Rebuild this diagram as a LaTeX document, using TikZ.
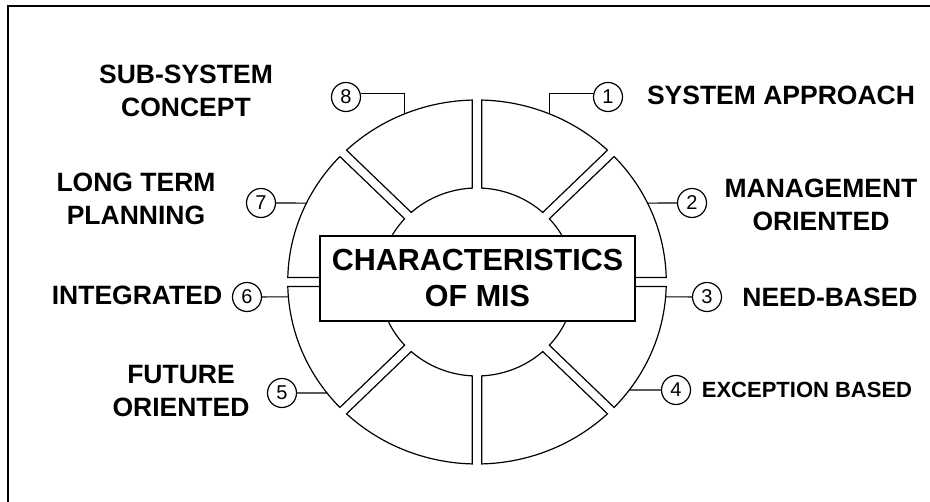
\documentclass[tikz,border=0pt]{standalone}
\usepackage{fontspec}
\setmainfont{Liberation Sans}
\begin{document}
\begin{tikzpicture}[x=1pt,y=1pt,
  lbl/.style={font=\bfseries\fontsize{26.5}{33}\selectfont,align=center,inner sep=0pt},
  num/.style={circle,draw,line width=1.2pt,minimum size=29pt,inner sep=0pt,font=\fontsize{20}{20}\selectfont},
  seg/.style={draw,line width=1.2pt},
  lead/.style={draw,line width=1.1pt}]
\useasboundingbox(0,0)rectangle(930,502);
\draw[line width=1.6pt](8,0)--(8,496)--(930,496);
% ring of eight segments
\begin{scope}[shift={(477,220)},xscale=1.04]
\foreach \a in {0,45,...,315}{
  \draw[seg](\a+1.42:182pt)arc[start angle=\a+1.42,end angle=\a+43.58,radius=182pt]--(\a+42.26:94pt)arc[start angle=\a+42.26,end angle=\a+2.74,radius=94pt]--cycle;}
\foreach \n/\t in {1/67.6,2/25.7,3/-4.7,4/-36.4,5/217.6,6/184.7,7/154.3,8/112.4}
  \coordinate(a\n)at(\t:182pt);
\end{scope}
\node[draw,fill=white,line width=1.5pt,minimum width=315pt,minimum height=85pt,align=center,font=\bfseries\fontsize{30.5}{36}\selectfont](mis)at(477.5,223.5){CHARACTERISTICS\\OF MIS};
% numbers
\node[num](n1)at(608,405){1};
\node[num](n2)at(692,299){2};
\node[num](n3)at(707,205){3};
\node[num](n4)at(676,112){4};
\node[num](n5)at(282,109){5};
\node[num](n6)at(247,205){6};
\node[num](n7)at(261,299){7};
\node[num](n8)at(346,405){8};
\draw[lead](n1.165)-|(a1);\draw[lead](n8.15)-|(a8);
\foreach \n in {2,...,7}\draw[lead](n\n)--(a\n);
% labels
\node[lbl](l1)at(781,407){SYSTEM APPROACH};
\node[lbl](l2)at(821,297){MANAGEMENT\\ORIENTED};
\node[lbl](l3)at(830,204.5){NEED-BASED};
\node[lbl,font=\bfseries\fontsize{22}{26}\selectfont](l4)at(807,112.5){EXCEPTION BASED};
\node[lbl](l5)at(181,110.5){FUTURE\\ORIENTED};
\node[lbl](l6)at(137,207){INTEGRATED};
\node[lbl](l7)at(136,303){LONG TERM\\PLANNING};
\node[lbl](l8)at(186,411){SUB-SYSTEM\\CONCEPT};
\end{tikzpicture}
\end{document}
